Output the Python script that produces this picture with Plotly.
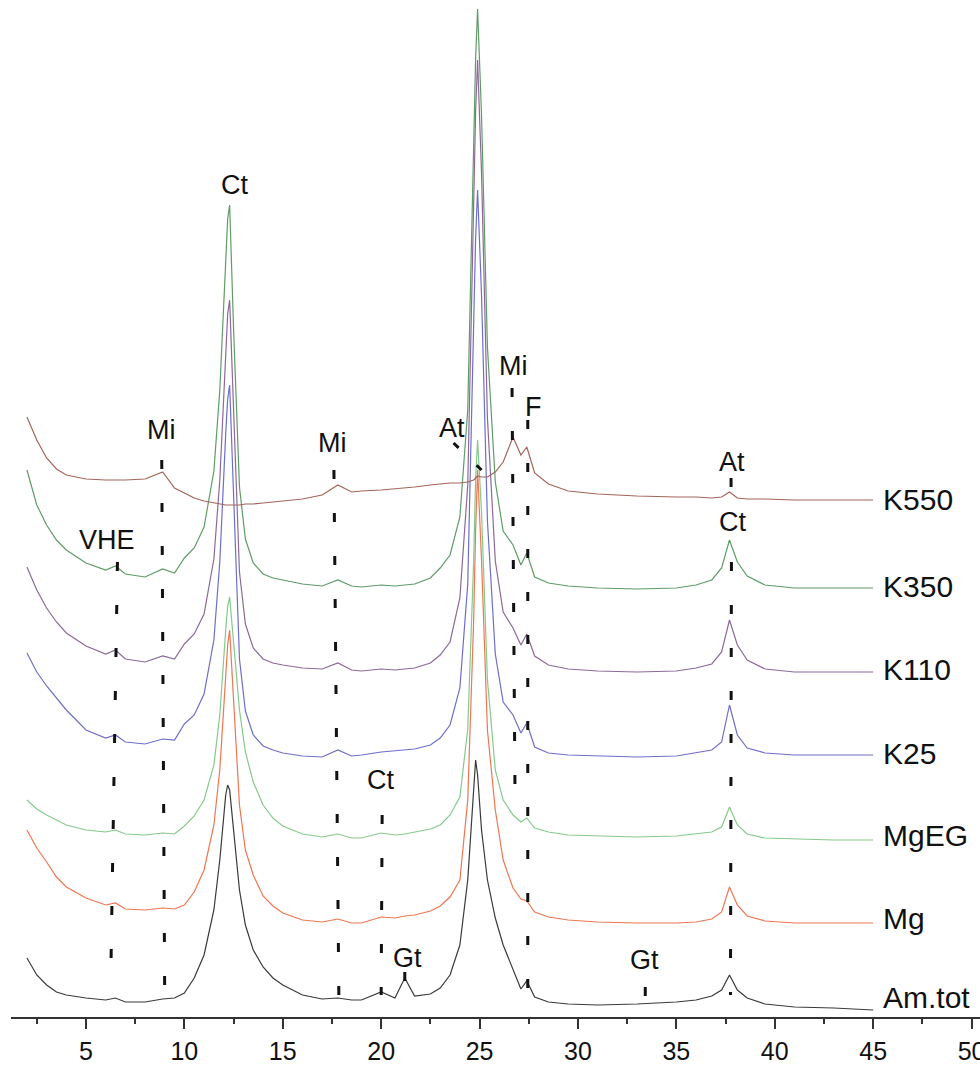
import plotly.graph_objects as go

# 2-theta positions (degrees) at which the patterns were read
two_theta = [2.0, 2.5, 3.0, 3.5, 4.0, 5.0, 6.0, 6.5, 7.0, 8.0,
             8.9, 9.5, 10.0, 10.5, 11.0, 11.5, 11.8, 12.1, 12.2, 12.3,
             12.5, 12.8, 13.1, 13.5, 14.0, 14.5, 15.0, 16.0, 17.0, 17.8,
             18.5, 19.0, 20.0, 20.7, 21.2, 21.7, 22.5, 23.0, 23.5, 24.0,
             24.4, 24.7, 24.8, 24.9, 25.1, 25.4, 25.8, 26.2, 26.7, 27.1,
             27.4, 27.8, 28.5, 29.5, 31.0, 33.0, 35.0, 36.0, 36.8, 37.3,
             37.7, 38.1, 38.6, 39.5, 41.0, 43.0, 45.0]

# stacked intensities (arbitrary units, offsets included)
k550 = [600, 577, 559, 548, 542, 538, 537, 537, 537, 538,
        545, 529, 524, 519, 516, 514, 513, 512, 512, 512,
        512, 512, 513, 513, 514, 515, 516, 518, 522, 532,
        525, 526, 527, 528, 529, 530, 532, 533, 534, 534,
        535, 537, 539, 541, 540, 540, 545, 555, 580, 562,
        570, 544, 533, 526, 523, 521, 520, 520, 519, 520,
        525, 519, 518, 518, 517, 517, 517]
k350 = [547, 512, 492, 477, 467, 454, 447, 451, 443, 440,
        448, 444, 459, 469, 490, 546, 627, 761, 798, 812,
        688, 530, 478, 454, 443, 439, 437, 433, 431, 437,
        431, 430, 432, 431, 432, 433, 439, 449, 462, 500,
        607, 853, 959, 1008, 902, 670, 535, 486, 472, 452,
        464, 440, 434, 431, 429, 428, 429, 432, 437, 449,
        477, 455, 441, 432, 429, 429, 429]
k110 = [450, 427, 409, 395, 384, 371, 363, 367, 358, 355,
        361, 358, 373, 383, 403, 458, 537, 667, 703, 717,
        603, 445, 393, 369, 358, 354, 352, 349, 348, 354,
        347, 346, 348, 347, 348, 349, 354, 362, 375, 419,
        532, 793, 906, 957, 844, 599, 456, 405, 389, 372,
        383, 361, 352, 348, 346, 345, 346, 349, 353, 365,
        397, 372, 357, 348, 345, 345, 345]
k25 = [364, 345, 331, 319, 307, 287, 279, 282, 275, 273,
       278, 277, 293, 302, 323, 377, 455, 583, 618, 632,
       518, 358, 306, 282, 271, 267, 264, 261, 260, 267,
       261, 262, 265, 266, 267, 268, 272, 279, 292, 329,
       433, 675, 779, 827, 722, 496, 363, 315, 302, 284,
       294, 270, 264, 262, 261, 260, 261, 264, 267, 275,
       312, 282, 269, 264, 262, 262, 262]
mgeg = [217, 208, 202, 197, 192, 187, 185, 187, 183, 182,
        184, 183, 191, 201, 217, 252, 302, 387, 411, 420,
        377, 307, 265, 235, 212, 199, 191, 183, 180, 183,
        179, 179, 184, 182, 183, 185, 188, 192, 202, 220,
        288, 456, 538, 577, 505, 337, 247, 217, 202, 195,
        199, 189, 185, 182, 181, 180, 181, 183, 185, 190,
        210, 192, 183, 179, 178, 177, 177]
mg = [187, 169, 155, 140, 130, 119, 112, 114, 108, 107,
      109, 108, 112, 125, 147, 192, 247, 337, 372, 387,
      317, 212, 167, 142, 121, 111, 104, 97, 95, 98,
      94, 94, 100, 99, 101, 102, 106, 111, 120, 137,
      217, 397, 487, 547, 457, 287, 207, 157, 129, 118,
      116, 105, 100, 97, 95, 94, 94, 95, 98, 105,
      130, 112, 101, 96, 94, 94, 94]
amtot = [59, 42, 32, 25, 22, 19, 17, 19, 15, 15,
         18, 19, 24, 39, 62, 107, 157, 222, 232, 227,
         187, 127, 92, 67, 50, 39, 32, 22, 18, 19,
         17, 17, 25, 19, 39, 21, 23, 29, 42, 72,
         137, 232, 257, 242, 187, 137, 99, 72, 47, 28,
         36, 20, 15, 13, 12, 13, 15, 17, 21, 27,
         42, 27, 19, 13, 10, 9, 7]

sample_names = ["Am.tot", "Mg", "MgEG", "K25", "K110", "K350", "K550"]
sample_data = [amtot, mg, mgeg, k25, k110, k350, k550]
sample_colors = ["#3a3a3a", "#ee7652", "#86c98c", "#6e6ecc", "#8c6a98", "#5f9c68", "#a3655a"]
sample_label_y = [20, 99, 182, 264, 348, 431, 518]

# phase reflections: label, 2-theta, height
phase_text = ["Ct", "Mi", "Mi", "VHE", "At", "Mi", "F", "At", "Ct", "Ct", "Gt", "Gt"]
phase_x = [12.57, 8.85, 17.55, 6.07, 23.62, 26.7, 27.75, 37.83, 37.83, 19.99, 21.36, 33.4]
phase_y = [832, 587, 574, 477, 589, 651, 610, 555, 495, 237, 59, 57]

# dashed reflection markers: (x top, y top, x bottom, y bottom)
mark_x0 = [6.6, 8.85, 17.6, 20.05, 21.2, 23.68, 26.65, 27.45, 37.78, 37.8, 33.42]
mark_y0 = [455, 557, 547, 202, 45, 574, 629, 597, 539, 455, 30]
mark_x1 = [6.25, 9.0, 17.85, 20.0, 21.2, 25.1, 26.8, 27.45, 37.78, 37.75, 33.42]
mark_y1 = [27, 22, 22, 22, 32, 547, 227, 22, 525, 22, 18]

FONT = "Liberation Sans, Arial, sans-serif"

fig = go.Figure()
for name, ys, col in zip(sample_names, sample_data, sample_colors):
    fig.add_trace(go.Scatter(x=two_theta, y=ys, mode="lines", name=name,
                             line=dict(color=col, width=1.2), hoverinfo="skip"))

for x0, y0, x1, y1 in zip(mark_x0, mark_y0, mark_x1, mark_y1):
    slanted = abs(x1 - x0) > 1
    fig.add_shape(type="line", xref="x", yref="y", x0=x0, y0=y0, x1=x1, y1=y1,
                  line=dict(color="#111", width=3,
                            dash="7px,25px" if slanted else "9px,34px"))

for t, x, y in zip(phase_text, phase_x, phase_y):
    fig.add_annotation(x=x, y=y, xref="x", yref="y", text=t, showarrow=False,
                       font=dict(family=FONT, size=27, color="#111"))

for name, y in zip(sample_names, sample_label_y):
    fig.add_annotation(x=45.4, y=y, xref="x", yref="y", text=name, showarrow=False,
                       xanchor="left", font=dict(family=FONT, size=30, color="#111"))

fig.update_layout(
    template="none",
    width=980, height=1068,
    margin=dict(l=11, r=0, t=0, b=51, autoexpand=False),
    paper_bgcolor="white", plot_bgcolor="white",
    showlegend=False,
    font=dict(family=FONT, color="#111"),
)
fig.update_xaxes(range=[1.19, 50.43], tickmode="linear", tick0=0, dtick=5,
                 ticks="outside", ticklen=10, tickwidth=2, tickcolor="#333",
                 showline=True, linecolor="#333", linewidth=2,
                 showgrid=False, zeroline=False, automargin=False,
                 tickfont=dict(family=FONT, size=25, color="#111"),
                 ticklabelstandoff=1, ticklabeloverflow="allow",
                 minor=dict(ticks="outside", ticklen=5, tickwidth=2,
                            tickcolor="#333", dtick=2.5, tick0=0, showgrid=False))
fig.update_yaxes(visible=False, range=[0, 1017], showgrid=False, zeroline=False)

fig.write_html("out.html")
